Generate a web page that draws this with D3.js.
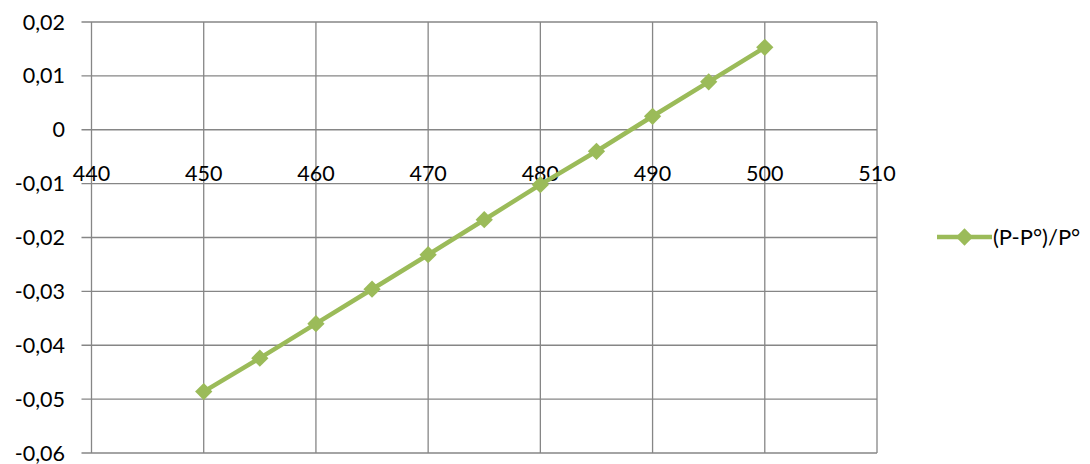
<!DOCTYPE html>
<html>
<head>
<meta charset="utf-8">
<script src="https://cdn.jsdelivr.net/npm/d3@7"></script>
<style>
  body { margin: 0; background: #fff; }
  svg text { font-family: Lato, "Open Sans", sans-serif; fill: #000; }
</style>
</head>
<body>
<div id="chart"></div>
<script>

// data
const xValues = [450, 455, 460, 465, 470, 475, 480, 485, 490, 495, 500];
const yValues = [-0.0486, -0.0424, -0.0360, -0.0296, -0.0232, -0.0167, -0.0102, -0.0040, 0.0025, 0.0089, 0.0153];
const seriesName = "(P-P°)/P°";
const xTicks = [440, 450, 460, 470, 480, 490, 500, 510];
const yTicks = [0.02, 0.01, 0, -0.01, -0.02, -0.03, -0.04, -0.05, -0.06];

const width = 1090, height = 464;
const green = "#9bbb59";
const gridColor = "#868686";
const fontSize = 21.5;

const sx = d3.scaleLinear().domain([440, 510]).range([91.5, 877]);
const sy = d3.scaleLinear().domain([-0.06, 0.02]).range([453, 22]);

const fmt = v => v === 0 ? "0" : d3.format(".2f")(v).replace(".", ",").replace("−", "-");

const svg = d3.select("#chart").append("svg")
	.attr("width", width)
	.attr("height", height);

// grid
svg.append("g").selectAll("line")
	.data(yTicks)
	.enter().append("line")
	.attr("x1", sx(440) - 10).attr("x2", sx(510))
	.attr("y1", d => sy(d)).attr("y2", d => sy(d))
	.attr("stroke", gridColor).attr("stroke-width", 1.3);

svg.append("g").selectAll("line")
	.data(xTicks)
	.enter().append("line")
	.attr("x1", d => sx(d)).attr("x2", d => sx(d))
	.attr("y1", sy(0.02)).attr("y2", sy(-0.06))
	.attr("stroke", gridColor).attr("stroke-width", 1.3);

// y labels
svg.append("g").selectAll("text")
	.data(yTicks)
	.enter().append("text")
	.attr("x", 65)
	.attr("y", d => sy(d))
	.attr("dy", "0.35em")
	.attr("text-anchor", "end")
	.attr("font-size", fontSize)
	.text(fmt);

// x labels (sit below the zero line, Excel style)
svg.append("g").selectAll("text")
	.data(xTicks)
	.enter().append("text")
	.attr("x", d => sx(d))
	.attr("y", 181)
	.attr("text-anchor", "middle")
	.attr("font-size", fontSize)
	.text(d => d);

// series
const pts = xValues.map((x, i) => [x, yValues[i]]);
const line = d3.line().x(d => sx(d[0])).y(d => sy(d[1]));

svg.append("path")
	.datum(pts)
	.attr("fill", "none")
	.attr("stroke", green)
	.attr("stroke-width", 4.5)
	.attr("d", line);

const diamond = d3.symbol().type(d3.symbolDiamond2).size(190);

svg.append("g").selectAll("path")
	.data(pts)
	.enter().append("path")
	.attr("transform", d => `translate(${sx(d[0])},${sy(d[1])})`)
	.attr("fill", green)
	.attr("d", diamond);

// legend
const lg = svg.append("g").attr("transform", "translate(937,237)");
lg.append("line")
	.attr("x1", 0).attr("x2", 55)
	.attr("stroke", green).attr("stroke-width", 4.5);
lg.append("path")
	.attr("transform", "translate(27.5,0)")
	.attr("fill", green)
	.attr("d", diamond);
lg.append("text")
	.attr("x", 56)
	.attr("dy", "0.35em")
	.attr("font-size", 22)
	.text(seriesName);

</script>
</body>
</html>
